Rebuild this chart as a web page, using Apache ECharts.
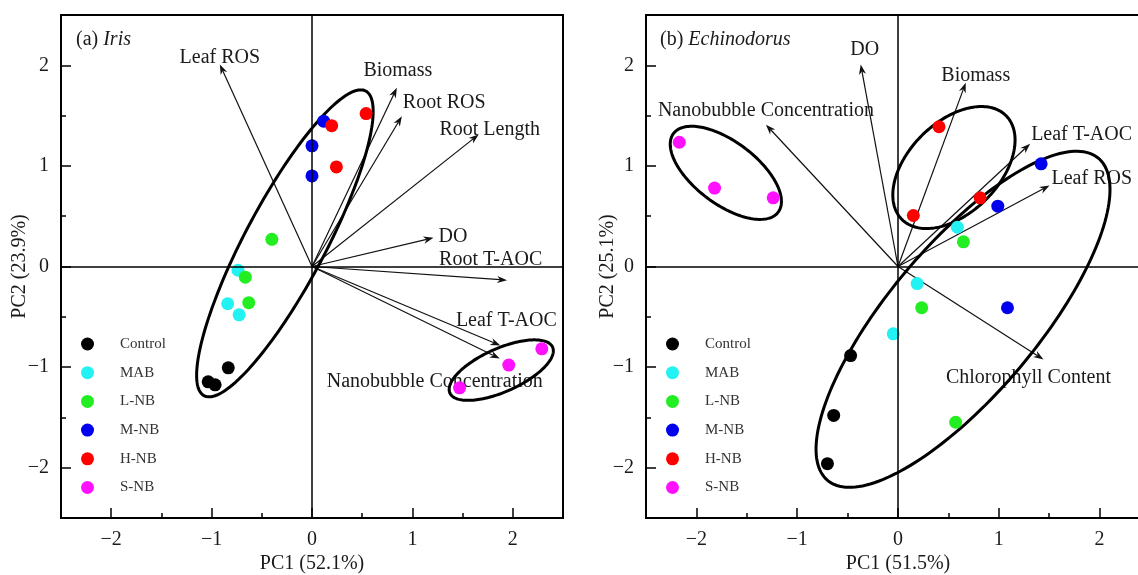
<!DOCTYPE html>
<html>
<head>
<meta charset="utf-8">
<script src="https://cdn.jsdelivr.net/npm/echarts@6/dist/echarts.min.js"></script>
<style>
  html, body { margin: 0; padding: 0; background: #fff; }
  #chart { width: 1138px; height: 575px; }
</style>
</head>
<body>
<div id="chart"></div>
<script>
// Treatment groups and their colours
const groupNames = ['Control', 'MAB', 'L-NB', 'M-NB', 'H-NB', 'S-NB'];
const groupColors = ['#000000', '#22f2f2', '#22ee22', '#0000ee', '#ff0000', '#ff11ff'];

// Axis ticks
const majorTicks = [-2, -1, 0, 1, 2];
const minorTicks = [-1.5, -0.5, 0.5, 1.5];

// (a) Iris — sample scores, three replicates per group (order of groupNames)
const irisPC1 = [
  [-0.834, -1.034, -0.965],
  [-0.737, -0.840, -0.726],
  [-0.400, -0.664, -0.630],
  [0.116, 0.000, 0.000],
  [0.196, 0.539, 0.243],
  [1.470, 1.960, 2.289]
];
const irisPC2 = [
  [-1.007, -1.146, -1.176],
  [-0.037, -0.370, -0.480],
  [0.270, -0.106, -0.360],
  [1.445, 1.200, 0.900],
  [1.400, 1.520, 0.990],
  [-1.206, -0.980, -0.818]
];
// (a) Iris — variable loadings
const irisVars = ['Leaf ROS', 'Biomass', 'Root ROS', 'Root Length', 'DO', 'Root T-AOC', 'Leaf T-AOC', 'Nanobubble Concentration'];
const irisLoadPC1 = [-0.918, 0.845, 0.895, 1.660, 1.210, 1.943, 1.876, 1.870];
const irisLoadPC2 = [2.008, 1.776, 1.494, 1.312, 0.285, -0.136, -0.785, -0.915];
// (a) Iris — group ellipses: centre x, centre y, semi-major, semi-minor, angle (deg)
const irisEllipses = [
  [-0.27, 0.23, 1.715, 0.40, 62],
  [1.885, -1.03, 0.56, 0.215, 24]
];

// (b) Echinodorus — sample scores
const echPC1 = [
  [-0.470, -0.638, -0.700],
  [0.589, 0.190, -0.047],
  [0.649, 0.235, 0.572],
  [1.420, 0.990, 1.086],
  [0.407, 0.815, 0.152],
  [-2.170, -1.820, -1.238]
];
const echPC2 = [
  [-0.885, -1.480, -1.960],
  [0.390, -0.170, -0.669],
  [0.245, -0.410, -1.548],
  [1.021, 0.600, -0.410],
  [1.389, 0.683, 0.507],
  [1.235, 0.780, 0.683]
];
// (b) Echinodorus — variable loadings
const echVars = ['DO', 'Nanobubble Concentration', 'Biomass', 'Leaf T-AOC', 'Leaf ROS', 'Chlorophyll Content'];
const echLoadPC1 = [-0.370, -1.310, 0.672, 1.311, 1.503, 1.443];
const echLoadPC2 = [2.008, 1.410, 1.826, 1.220, 0.805, -0.924];
// (b) Echinodorus — group ellipses
const echEllipses = [
  [-1.708, 0.931, 0.65, 0.31, -37],
  [0.555, 0.984, 0.73, 0.45, 45],
  [0.645, -0.525, 2.09, 0.74, 50]
];

// Text placement of the loading labels relative to the arrow tip: [dx, dy, align]
const irisLabelLayout = {
  'Leaf ROS': [0, -7, 'center'],
  'Biomass': [1, -17, 'center'],
  'Root ROS': [1, -13, 'left'],
  'Root Length': [11, -5, 'center'],
  'DO': [5, -1, 'left'],
  'Root T-AOC': [-68, -20, 'left'],
  'Leaf T-AOC': [6, -25, 'center'],
  'Nanobubble Concentration': [-65, 23, 'center']
};
const echLabelLayout = {
  'DO': [4, -15, 'center'],
  'Nanobubble Concentration': [0, -14, 'center'],
  'Biomass': [10, -7, 'center'],
  'Leaf T-AOC': [1, -9, 'left'],
  'Leaf ROS': [2, -7, 'left'],
  'Chlorophyll Content': [-15, 18, 'center']
};

const SERIF = '"Liberation Serif", "Times New Roman", serif';
const INK = '#1a1a1a';

function minusSign(v) { return String(v).replace('-', '\u2212'); }

function mainAxis(kind, gridIndex, name, nameGap) {
  return {
    type: 'value', gridIndex, position: kind === 'x' ? 'bottom' : 'left',
    min: -2.5, max: 2.5, interval: 0.5,
    name, nameLocation: 'middle', nameGap, nameMoveOverlap: false,
    nameTextStyle: { fontFamily: SERIF, fontSize: 20, color: INK },
    axisLine: { show: false, onZero: false },
    splitLine: { show: false },
    axisTick: { show: true, inside: true, length: 10, customValues: majorTicks, lineStyle: { color: '#000', width: 1.5 } },
    axisLabel: { customValues: majorTicks, formatter: minusSign, margin: 12, fontFamily: SERIF, fontSize: 20, color: INK }
  };
}
function minorAxis(kind, gridIndex) {
  return {
    type: 'value', gridIndex, position: kind === 'x' ? 'bottom' : 'left',
    min: -2.5, max: 2.5, interval: 0.5,
    axisLine: { show: false, onZero: false },
    splitLine: { show: false },
    axisTick: { show: true, inside: true, length: 5, customValues: minorTicks, lineStyle: { color: '#000', width: 1.5 } },
    axisLabel: { show: false }
  };
}

function arrowRenderer(names, layout) {
  return function (params, api) {
    const o = api.coord([0, 0]);
    const t = api.coord([api.value(0), api.value(1)]);
    const ang = Math.atan2(t[1] - o[1], t[0] - o[0]);
    const c = Math.cos(ang), s = Math.sin(ang);
    const back = (d, w) => [t[0] - d * c - w * s, t[1] - d * s + w * c];
    const name = names[params.dataIndex];
    const lay = layout[name];
    const neck = back(7, 0);
    return {
      type: 'group',
      children: [
        { type: 'line', shape: { x1: o[0], y1: o[1], x2: neck[0], y2: neck[1] }, style: { stroke: '#111', lineWidth: 1.2 } },
        { type: 'polygon', shape: { points: [t, back(10, 3.6), neck, back(10, -3.6)] }, style: { fill: '#111' } },
        { type: 'text', x: t[0] + lay[0], y: t[1] + lay[1],
          style: { text: name, fill: INK, fontFamily: SERIF, fontSize: 20, align: lay[2], verticalAlign: 'middle' } }
      ]
    };
  };
}

function ellipseRenderer(params, api) {
  const cx = api.value(0), cy = api.value(1), a = api.value(2), b = api.value(3);
  const th = api.value(4) * Math.PI / 180;
  const pts = [];
  for (let k = 0; k < 180; k++) {
    const t = 2 * Math.PI * k / 180;
    const u = a * Math.cos(t), v = b * Math.sin(t);
    pts.push(api.coord([cx + u * Math.cos(th) - v * Math.sin(th), cy + u * Math.sin(th) + v * Math.cos(th)]));
  }
  return { type: 'polygon', shape: { points: pts }, style: { fill: 'none', stroke: '#000', lineWidth: 3 } };
}

function panelSeries(axisIdx, pc1, pc2, vars, l1, l2, ellipses, layout) {
  const out = [];
  // reference lines through the origin
  out.push({
    type: 'line', xAxisIndex: axisIdx, yAxisIndex: axisIdx, data: [], z: 1, silent: true,
    markLine: { silent: true, symbol: 'none', label: { show: false }, animation: false,
      lineStyle: { color: '#000', width: 1.5, type: 'solid' }, data: [{ xAxis: 0 }, { yAxis: 0 }] }
  });
  out.push({
    type: 'custom', xAxisIndex: axisIdx, yAxisIndex: axisIdx, z: 2, silent: true,
    renderItem: arrowRenderer(vars, layout),
    encode: { x: 0, y: 1 },
    data: vars.map((_, i) => [l1[i], l2[i]])
  });
  out.push({
    type: 'custom', xAxisIndex: axisIdx, yAxisIndex: axisIdx, z: 3, silent: true,
    renderItem: ellipseRenderer,
    encode: { x: 0, y: 1 },
    data: ellipses
  });
  groupNames.forEach((g, gi) => {
    out.push({
      type: 'scatter', name: g, xAxisIndex: axisIdx, yAxisIndex: axisIdx, z: 4,
      symbol: 'circle', symbolSize: 13,
      itemStyle: { color: groupColors[gi], opacity: 1 },
      data: pc1[gi].map((x, k) => [x, pc2[gi][k]])
    });
  });
  return out;
}

function legendFor(left) {
  return {
    orient: 'vertical', left, top: 336.5, padding: 0, icon: 'circle',
    itemWidth: 13, itemHeight: 13, itemGap: 13.7,
    data: groupNames,
    textStyle: { fontFamily: SERIF, fontSize: 15, color: '#333', padding: [0, 0, 0, 21] }
  };
}

const titleRich = {
  n: { fontFamily: SERIF, fontSize: 20, fontWeight: 'normal', color: INK },
  i: { fontFamily: SERIF, fontSize: 20, fontWeight: 'normal', fontStyle: 'italic', color: INK }
};

const chart = echarts.init(document.getElementById('chart'), null, { renderer: 'canvas' });
chart.setOption({
  animation: false,
  backgroundColor: '#fff',
  title: [
    { text: '{n|(a) }{i|Iris}', left: 76, top: 30, padding: 0, textStyle: { fontWeight: 'normal', rich: titleRich } },
    { text: '{n|(b) }{i|Echinodorus}', left: 660, top: 30, padding: 0, textStyle: { fontWeight: 'normal', rich: titleRich } }
  ],
  legend: [legendFor(81), legendFor(666)],
  grid: [
    { left: 61, top: 15, width: 502, height: 503, outerBoundsMode: 'none', containLabel: false,
      show: true, borderColor: '#000', borderWidth: 2, backgroundColor: 'transparent' },
    { left: 646, top: 15, width: 504, height: 503, outerBoundsMode: 'none', containLabel: false,
      show: true, borderColor: '#000', borderWidth: 2, backgroundColor: 'transparent' }
  ],
  xAxis: [
    mainAxis('x', 0, 'PC1 (52.1%)', 36), minorAxis('x', 0),
    mainAxis('x', 1, 'PC1 (51.5%)', 36), minorAxis('x', 1)
  ],
  yAxis: [
    mainAxis('y', 0, 'PC2 (23.9%)', 31), minorAxis('y', 0),
    mainAxis('y', 1, 'PC2 (25.1%)', 28), minorAxis('y', 1)
  ],
  series: [].concat(
    panelSeries(0, irisPC1, irisPC2, irisVars, irisLoadPC1, irisLoadPC2, irisEllipses, irisLabelLayout),
    panelSeries(2, echPC1, echPC2, echVars, echLoadPC1, echLoadPC2, echEllipses, echLabelLayout)
  )
});
</script>
</body>
</html>
